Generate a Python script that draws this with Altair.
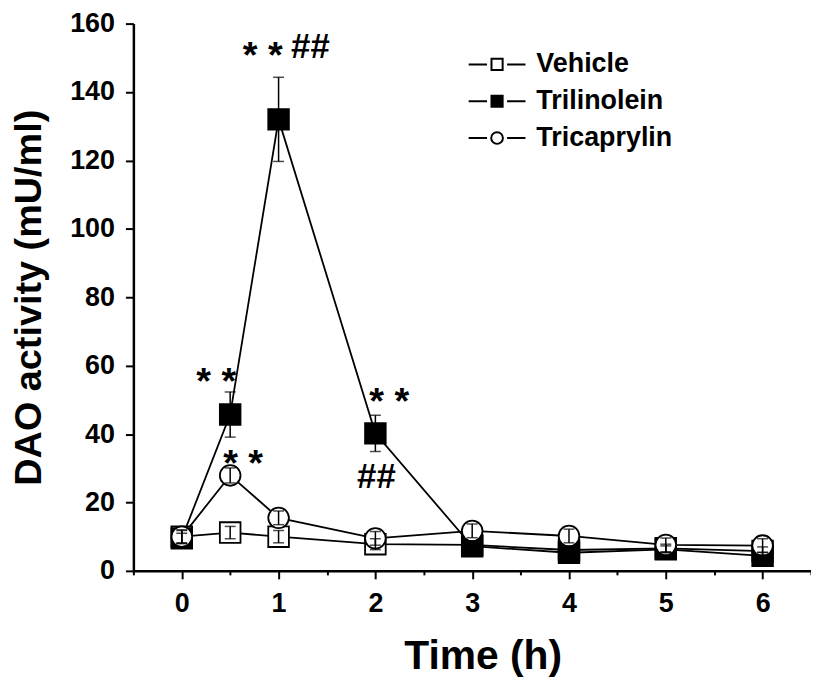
import altair as alt
import pandas as pd

# ---------------- data ----------------
time = [0, 0.5, 1, 2, 3, 4, 5, 6]
series = ["Vehicle", "Trilinolein", "Tricaprylin"]
vehicle_mean = [10.0, 11.2, 10.0, 7.8, 7.6, 6.1, 6.6, 5.8]
vehicle_err = [1.8, 1.8, 1.8, 1.6, 1.2, 1.2, 1.2, 1.2]
trilinolein_mean = [9.5, 45.7, 132.0, 40.2, 7.2, 5.3, 6.3, 4.4]
trilinolein_err = [1.5, 6.6, 12.3, 5.3, 1.0, 1.0, 1.0, 1.0]
tricaprylin_mean = [10.0, 27.9, 15.5, 9.5, 11.7, 10.2, 7.6, 7.4]
tricaprylin_err = [2.0, 2.2, 2.0, 2.0, 2.0, 2.0, 2.0, 2.0]

ann_series = ["Trilinolein", "Trilinolein", "Trilinolein", "Tricaprylin", "Trilinolein", "Trilinolein"]
ann_time = [1, 1, 0.5, 0.5, 2, 2]
ann_text = ["* *", "##", "* *", "* *", "* *", "##"]

x_ticks = [-0.5, 0, 0.5, 1, 1.5, 2, 2.5, 3, 3.5, 4, 4.5, 5, 5.5, 6, 6.5]
y_ticks = list(range(0, 161, 10))

# ---------------- table ----------------
means = {"Vehicle": vehicle_mean, "Trilinolein": trilinolein_mean, "Tricaprylin": tricaprylin_mean}
errs = {"Vehicle": vehicle_err, "Trilinolein": trilinolein_err, "Tricaprylin": tricaprylin_err}
rows = []
for s in series:
    for t, m, e in zip(time, means[s], errs[s]):
        rows.append({"series": s, "time": t, "mean": m, "lo": m - e, "hi": m + e})
df = pd.DataFrame(rows)

FONT = "Liberation Sans"

x_scale = alt.Scale(domain=[-0.5, 6.5], nice=False, zero=False)
y_scale = alt.Scale(domain=[0, 160], nice=False)

X_MAJOR = "abs(datum.value - round(datum.value)) < 0.001 && datum.value > -0.1"
x_axis = alt.Axis(
    title="Time (h)", values=x_ticks,
    labelExpr=f"({X_MAJOR}) ? format(datum.value, 'd') : ''",
    tickSize={"condition": {"test": X_MAJOR, "value": 8}, "value": 4},
    labelPadding=12, titlePadding=20, titleX=351, titleFontSize=41,
)
Y_MAJOR = "datum.value % 20 === 0"
y_axis = alt.Axis(
    title="DAO activity (mU/ml)", values=y_ticks,
    labelExpr=f"({Y_MAJOR}) ? format(datum.value, 'd') : ''",
    tickSize={"condition": {"test": Y_MAJOR, "value": 8}, "value": 4},
    labelPadding=11, titlePadding=21, titleFontSize=38,
)

X = alt.X("time:Q", scale=x_scale, axis=x_axis)
Y = alt.Y("mean:Q", scale=y_scale, axis=y_axis)

base = alt.Chart(df)

# legend symbols: line - marker - line
sq_path = "M-2.04,0H-0.72M0.72,0H2.04M-0.4,-0.4H0.4V0.4H-0.4Z"
ci_path = ("M-2.04,0H-0.72M0.72,0H2.04M0.42,0A0.42,0.42 0 1,1 -0.42,0"
           "A0.42,0.42 0 1,1 0.42,0Z")

def legend_def():
    return alt.Legend(title=None, orient="none", legendX=350.5, legendY=26,
                      labelFont=FONT, labelFontSize=27, labelFontWeight="bold",
                      labelColor="black", labelOffset=24.5, rowPadding=9,
                      symbolSize=784, symbolStrokeWidth=2, padding=0)

legend_layer = base.mark_point(size=1, strokeWidth=2, opacity=1, filled=False).encode(
    x=X, y=Y,
    shape=alt.Shape("series:N", scale=alt.Scale(domain=series, range=[sq_path, sq_path, ci_path]),
                    legend=legend_def()),
    fill=alt.Fill("series:N", scale=alt.Scale(domain=series, range=["white", "black", "white"]),
                  legend=legend_def()),
    stroke=alt.Stroke("series:N", scale=alt.Scale(domain=series, range=["black", "black", "black"]),
                      legend=legend_def()),
)

lines = base.mark_line(color="black", strokeWidth=1.8).encode(
    x=X, y=Y, detail="series:N"
)

points = base.mark_point(filled=False, stroke="black", strokeWidth=1.8, opacity=1, size=430).encode(
    x=X, y=Y,
    shape=alt.Shape("series:N", scale=alt.Scale(domain=series, range=["square", "square", "circle"]), legend=None),
    fill=alt.Fill("series:N", scale=alt.Scale(domain=series, range=["white", "black", "white"]), legend=None),
)

err_rule = base.mark_rule(color="black", strokeWidth=1.5).encode(
    x=X, y=alt.Y("lo:Q", scale=y_scale), y2="hi:Q"
)
cap_lo = base.mark_tick(color="black", thickness=1.5, size=11, orient="horizontal").encode(
    x=X, y=alt.Y("lo:Q", scale=y_scale)
)
cap_hi = base.mark_tick(color="black", thickness=1.5, size=11, orient="horizontal").encode(
    x=X, y=alt.Y("hi:Q", scale=y_scale)
)

# annotations anchored to their data points
ann_offsets = [(-16, -63), (32, -73), (-14, -32), (13, -10), (14, -30), (1, 44)]
ann_layers = []
for s, t, txt, (dx, dy) in zip(ann_series, ann_time, ann_text, ann_offsets):
    val = means[s][time.index(t)]
    a_df = pd.DataFrame({"time": [t], "mean": [val], "label": [txt]})
    fs = 38 if "*" in txt else 35
    ann_layers.append(
        alt.Chart(a_df).mark_text(font=FONT, fontWeight="bold", fontSize=fs, color="black",
                                  dx=dx, dy=dy, baseline="middle", align="center").encode(
            x=X, y=Y, text="label:N")
    )

chart = alt.layer(legend_layer, lines, points, err_rule, cap_lo, cap_hi, *ann_layers).resolve_scale(
    shape="independent", fill="independent", stroke="independent"
).properties(
    width=681, height=550,
    autosize=alt.AutoSizeParams(type="none"),
    padding={"left": 126, "top": 14, "right": 0, "bottom": 108},
).configure_view(stroke=None).configure_axis(
    domainColor="black", domainWidth=2.5, tickColor="black", tickWidth=2,
    labelFont=FONT, labelFontSize=27, labelFontWeight="bold", labelColor="black",
    titleFont=FONT, titleFontWeight="bold", titleColor="black",
    grid=False, labelFlush=False, labelOverlap=False,
)

chart.save("out.html", embed_options={"renderer": "svg", "actions": False})
